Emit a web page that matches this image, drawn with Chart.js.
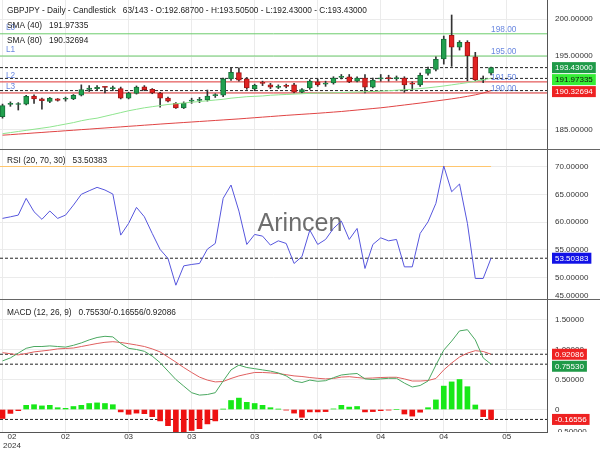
<!DOCTYPE html>
<html>
<head>
<meta charset="utf-8">
<script src="https://cdn.jsdelivr.net/npm/chart.js@4.4.1/dist/chart.umd.min.js"></script>
<style>
html, body { margin: 0; padding: 0; background: #fff; }
#wrap { position: relative; width: 600px; height: 450px; overflow: hidden; }
.panel { position: absolute; left: 0; width: 600px; }
.panel canvas { display: block; }
.sep { position: absolute; left: 0; width: 600px; height: 1px; background: #666; }
</style>
</head>
<body>
<div id="wrap">
  <div class="panel" style="top:0;height:149px"><canvas id="priceChart" width="600" height="149"></canvas></div>
  <div class="sep" style="top:149px"></div>
  <div class="panel" style="top:150px;height:149px"><canvas id="rsiChart" width="600" height="149"></canvas></div>
  <div class="sep" style="top:299px"></div>
  <div class="panel" style="top:300px;height:150px"><canvas id="macdChart" width="600" height="150"></canvas></div>
</div>
<script>
// x axis (candle index) ticks
const xTickIdx = [0, 8, 16, 24, 32, 40, 48, 56, 64];
const xTickLabels = ['02', '02', '03', '03', '03', '04', '04', '04', '05'];

// GBPJPY daily candles
const opens = [186.8, 188.45, 188.45, 188.5, 189.6, 189.2, 188.85, 189.2, 189.15, 189.2,
  189.7, 190.5, 190.6, 190.85, 190.6, 190.6, 189.3, 189.95, 190.85, 190.5,
  190.0, 189.3, 188.6, 188.0, 188.9, 189.0, 189.05, 189.65, 189.7, 191.9,
  192.75, 191.9, 190.55, 191.4, 191.1, 190.75, 191.0, 191.1, 190.1, 190.7,
  191.5, 191.2, 191.35, 192.1, 192.2, 191.6, 192.0, 190.8, 191.9, 192.05,
  191.95, 192.0, 191.35, 191.1, 192.66, 193.2, 194.6, 197.8, 196.2, 196.85,
  194.9, 191.72, 192.687];
const highs = [188.5, 188.8, 188.7, 189.7, 189.75, 189.3, 189.4, 189.25, 189.45, 189.8,
  191.1, 191.0, 191.0, 190.9, 190.95, 190.8, 190.1, 190.95, 191.0, 190.6,
  190.1, 189.45, 188.7, 188.8, 189.3, 189.4, 190.4, 189.9, 192.0, 193.4,
  193.4, 192.1, 191.2, 191.6, 191.3, 191.1, 191.2, 191.3, 190.6, 191.8,
  191.9, 191.6, 192.2, 192.5, 192.5, 192.2, 192.5, 192.0, 192.5, 192.4,
  192.3, 192.2, 191.5, 192.7, 193.5, 194.9, 197.7, 200.54, 197.07, 197.07,
  195.5, 192.3, 193.505];
const lows = [186.6, 188.2, 187.7, 188.4, 188.6, 187.8, 188.7, 188.9, 188.9, 189.1,
  189.6, 190.2, 190.3, 190.0, 190.3, 189.2, 189.2, 189.85, 190.3, 189.9,
  188.1, 188.8, 187.9, 187.9, 188.6, 188.7, 188.9, 189.4, 189.5, 191.7,
  191.6, 190.5, 190.3, 191.0, 190.6, 190.6, 190.7, 190.0, 190.0, 190.5,
  190.9, 190.9, 191.2, 191.9, 191.4, 191.5, 190.0, 190.7, 191.6, 191.6,
  191.7, 190.1, 190.4, 190.9, 192.4, 193.0, 193.9, 193.6, 195.8, 191.66,
  191.66, 191.4, 192.43];
const closes = [188.3, 188.6, 188.55, 189.55, 189.2, 188.95, 189.3, 189.0, 189.25, 189.7,
  190.45, 190.65, 190.75, 190.75, 190.65, 189.3, 190.0, 190.8, 190.45, 190.0,
  189.3, 188.9, 188.0, 188.6, 189.0, 189.1, 189.6, 189.75, 191.9, 192.8,
  191.75, 190.7, 191.05, 191.3, 190.8, 190.85, 190.9, 190.1, 190.45, 191.6,
  191.1, 191.35, 192.0, 192.25, 191.5, 192.0, 190.8, 191.75, 192.05, 191.95,
  192.0, 191.1, 191.2, 192.4, 193.2, 194.55, 197.3, 196.2, 196.85, 195.04,
  191.76, 191.8, 193.43];

const sma40 = [184.5, 184.65, 184.8, 184.95, 185.1, 185.25, 185.4, 185.6, 185.8, 186.0,
  186.25, 186.45, 186.6, 186.85, 187.1, 187.35, 187.6, 187.8, 188.0, 188.15,
  188.3, 188.45, 188.55, 188.65, 188.75, 188.85, 188.95, 189.05, 189.15, 189.3,
  189.4, 189.5, 189.55, 189.6, 189.7, 189.75, 189.8, 189.85, 189.9, 189.95,
  189.98, 190.0, 190.03, 190.07, 190.1, 190.13, 190.17, 190.2, 190.25, 190.3,
  190.38, 190.45, 190.5, 190.6, 190.7, 190.82, 190.95, 191.1, 191.25, 191.4,
  191.6, 191.8, 191.97335];
const sma80 = [184.3, 184.37, 184.45, 184.52, 184.6, 184.67, 184.75, 184.82, 184.9, 184.97,
  185.05, 185.12, 185.2, 185.27, 185.35, 185.42, 185.5, 185.57, 185.65, 185.72,
  185.8, 185.87, 185.94, 186.01, 186.08, 186.15, 186.22, 186.29, 186.36, 186.43,
  186.5, 186.58, 186.66, 186.74, 186.82, 186.9, 186.98, 187.05, 187.12, 187.19,
  187.26, 187.34, 187.42, 187.5, 187.6, 187.7, 187.8, 187.9, 188.0, 188.12,
  188.25, 188.38, 188.51, 188.64, 188.78, 188.92, 189.06, 189.21, 189.37, 189.55,
  189.75, 190.0, 190.32694];

const rsi = [60.67, 60.95, 61.26, 64.27, 61.86, 60.5, 62.0, 60.67, 61.26, 63.06,
  65.0, 65.64, 66.25, 65.77, 65.05, 57.66, 59.77, 62.65, 60.96, 57.96,
  55.08, 53.46, 48.65, 52.13, 52.38, 52.56, 55.14, 56.16, 64.27, 66.67,
  61.98, 55.98, 57.78, 57.48, 55.86, 56.63, 56.16, 52.56, 53.8, 58.56,
  55.98, 56.88, 58.86, 60.18, 56.88, 58.86, 51.66, 55.98, 57.17, 56.63,
  56.88, 51.95, 51.95, 57.96, 60.05, 63.37, 70.09, 65.46, 66.85, 59.77,
  49.86, 49.86, 53.50383];

const macd = [0.81, 0.86, 0.94, 1.02, 1.05, 1.05, 1.06, 1.05, 1.04, 1.07,
  1.11, 1.16, 1.20, 1.22, 1.21, 1.10, 1.02, 1.00, 0.97, 0.89,
  0.78, 0.64, 0.50, 0.39, 0.28, 0.24, 0.25, 0.28, 0.475, 0.66,
  0.74, 0.70, 0.68, 0.66, 0.64, 0.61, 0.56, 0.475, 0.45, 0.49,
  0.47, 0.48, 0.53, 0.575, 0.59, 0.60, 0.51, 0.50, 0.51, 0.52,
  0.52, 0.44, 0.375, 0.40, 0.475, 0.74, 0.99, 1.14, 1.31, 1.33,
  1.16, 0.86, 0.7553];
const signal = [0.947, 0.93, 0.91, 0.933, 0.96, 0.975, 0.99, 1.01, 1.017, 1.025,
  1.05, 1.075, 1.10, 1.12, 1.13, 1.117, 1.097, 1.075, 1.05, 1.01,
  0.96, 0.875, 0.79, 0.70, 0.617, 0.54, 0.49, 0.46, 0.467, 0.517,
  0.56, 0.59, 0.617, 0.617, 0.61, 0.60, 0.58, 0.56, 0.55, 0.533,
  0.52, 0.51, 0.517, 0.54, 0.547, 0.533, 0.52, 0.525, 0.533, 0.537,
  0.537, 0.51, 0.475, 0.475, 0.483, 0.517, 0.66, 0.775, 0.875, 0.94,
  0.98, 0.967, 0.92086];
const hist = [-0.15, -0.065, -0.02, 0.07, 0.08, 0.06, 0.07, 0.03, 0.02, 0.05,
  0.07, 0.10, 0.11, 0.10, 0.08, -0.04, -0.08, -0.06, -0.07, -0.12,
  -0.19, -0.27, -0.42, -0.41, -0.35, -0.32, -0.24, -0.19, 0.005, 0.15,
  0.19, 0.12, 0.10, 0.07, 0.03, 0.005, -0.01, -0.06, -0.13, -0.04,
  -0.04, -0.035, 0.01, 0.07, 0.04, 0.05, -0.04, -0.035, -0.02, -0.01,
  0, -0.075, -0.11, -0.045, 0.03, 0.16, 0.39, 0.46, 0.50, 0.38,
  0.075, -0.12, -0.16556];

// horizontal levels on the price panel
const levelNames = ['L0', 'L1', 'L2', 'L3'];
const levelValues = [198, 195, 191.5, 190];

const priceTicks = [185, 190, 195, 200];
const rsiTicks = [50, 55, 60, 65, 70];
const macdTicks = [0, 0.5, 1, 1.5];

const FONT = '"Liberation Sans", Arial, sans-serif';
const X_MIN = -0.32, X_MAX = 69.1;
const idx = closes.map((_, i) => i);

Chart.defaults.font.family = FONT;

function xScale(height, showBorder) {
    return {
        type: 'linear', min: X_MIN, max: X_MAX, offset: false,
        afterBuildTicks: s => { s.ticks = xTickIdx.map(v => ({ value: v })); },
        ticks: { display: false },
        grid: { color: '#ebebeb', drawTicks: false, offset: false },
        border: { display: showBorder, color: '#555' },
        afterFit: s => { s.height = height; s.paddingLeft = 0; s.paddingRight = 0; }
    };
}

function yScale(min, max, tickVals, fmt) {
    return {
        position: 'right', min: min, max: max,
        afterBuildTicks: s => { s.ticks = tickVals.map(v => ({ value: v })); },
        ticks: { callback: fmt, font: { family: FONT, size: 8 }, color: '#333', padding: 8 },
        grid: { color: '#ebebeb', drawTicks: false },
        border: { display: true, color: '#555' },
        afterFit: s => { s.width = 53; s.paddingTop = 0; s.paddingBottom = 0; }
    };
}

const fmt5 = v => (v === 0 ? '0' : Number(v).toFixed(5));

function lineDs(ys, color, order, extra) {
    return Object.assign({
        type: 'line',
        data: ys.map((y, i) => ({ x: i, y: y })),
        borderColor: color, borderWidth: 1, pointRadius: 0, tension: 0, order: order
    }, extra || {});
}

function hLine(value, color, order, dash, xEnd) {
    return {
        type: 'line',
        data: [{ x: X_MIN, y: value }, { x: xEnd === undefined ? X_MAX : xEnd, y: value }],
        borderColor: color, borderWidth: 1, borderDash: dash || [],
        pointRadius: 0, order: order
    };
}

const baseOptions = {
    responsive: false,
    maintainAspectRatio: false,
    animation: false,
    events: [],
    layout: { padding: 0, autoPadding: false },
    plugins: { legend: { display: false }, tooltip: { enabled: false } }
};

function drawTitle(ctx, name, value, x, y) {
    ctx.save();
    ctx.font = '8.3px ' + FONT;
    ctx.fillStyle = '#222';
    ctx.textAlign = 'left';
    ctx.textBaseline = 'middle';
    ctx.fillText(name, x, y);
    const w = ctx.measureText(name).width;
    ctx.fillText(value, x + w + 7, y);
    ctx.restore();
}

// value boxes on the right axis, pushed apart so they never overlap
function drawBoxes(chart, boxes) {
    const ctx = chart.ctx;
    const ys = chart.scales.y;
    ctx.save();
    ctx.font = '8px ' + FONT;
    ctx.textAlign = 'left';
    ctx.textBaseline = 'middle';
    let prev = -Infinity;
    boxes.map(b => Object.assign({ cy: ys.getPixelForValue(b.value) }, b))
        .sort((a, b) => a.cy - b.cy)
        .forEach(b => {
            const cy = Math.max(b.cy, prev + 12);
            prev = cy;
            const w = ctx.measureText(b.text).width;
            ctx.fillStyle = b.bg;
            ctx.fillRect(552, cy - 5.5, w + 6, 11);
            ctx.fillStyle = b.fg;
            ctx.fillText(b.text, 555, cy + 0.5);
        });
    ctx.restore();
}

function edgeLabel(chart, text, y) {
    const ctx = chart.ctx;
    ctx.save();
    ctx.beginPath();
    ctx.rect(548, 0, 52, chart.chartArea.bottom);
    ctx.clip();
    ctx.font = '8px ' + FONT;
    ctx.fillStyle = '#333';
    ctx.textAlign = 'left';
    ctx.textBaseline = 'middle';
    ctx.fillText(text, 555, y);
    ctx.restore();
}

// ---------- price panel ----------
const upCol = '#22a04e', upBorder = '#17703a';
const dnCol = '#e02222', dnBorder = '#a31616';
const isUp = idx.map(i => closes[i] >= opens[i]);

const pricePlugin = {
    id: 'priceDecor',
    afterDraw(chart) {
        const ctx = chart.ctx;
        const ys = chart.scales.y, xs = chart.scales.x;
        ctx.save();
        ctx.font = '8.3px ' + FONT;
        ctx.fillStyle = '#6a88e0';
        ctx.textBaseline = 'middle';
        levelValues.forEach((v, k) => {
            const py = ys.getPixelForValue(v);
            ctx.textAlign = 'left';
            ctx.fillText(levelNames[k], 6, py - 6.5);
            ctx.fillText(v.toFixed(2), xs.getPixelForValue(idx.length - 1), py - 4.5);
        });
        ctx.restore();
        const last = idx.length - 1;
        drawTitle(ctx, 'GBPJPY - Daily - Candlestick',
            '63/143 - O:' + opens[last].toFixed(5) + ' - H:' + highs[last].toFixed(5) +
            ' - L:' + lows[last].toFixed(5) + ' - C:' + closes[last].toFixed(5), 7, 10.3);
        drawTitle(ctx, 'SMA (40)', sma40[last].toFixed(5), 7, 25.7);
        drawTitle(ctx, 'SMA (80)', sma80[last].toFixed(5), 7, 40.7);
        drawBoxes(chart, [
            { value: closes[last], text: closes[last].toFixed(5), bg: '#1f9a48', fg: '#fff' },
            { value: sma40[last], text: sma40[last].toFixed(5), bg: '#36ee36', fg: '#111' },
            { value: sma80[last], text: sma80[last].toFixed(5), bg: '#ee2222', fg: '#fff' }
        ]);
    }
};

const lastI = idx.length - 1;
new Chart(document.getElementById('priceChart'), {
    type: 'bar',
    data: {
        datasets: [
            hLine(levelValues[0], '#6ccc6c', 6),
            hLine(levelValues[1], '#6ccc6c', 6),
            hLine(levelValues[2], '#dd3333', 6),
            hLine(levelValues[3], '#dd3333', 6),
            hLine(closes[lastI], '#222', 5, [3, 2]),
            hLine(sma40[lastI], '#222', 5, [3, 2]),
            hLine(sma80[lastI], '#222', 5, [3, 2]),
            {
                type: 'bar', order: 3, grouped: false,
                data: idx.map(i => ({ x: i, y: [lows[i], highs[i]] })),
                backgroundColor: '#333', barThickness: 1, borderWidth: 0
            },
            {
                type: 'bar', order: 2, grouped: false,
                data: idx.map(i => ({ x: i, y: [opens[i], closes[i]] })),
                backgroundColor: isUp.map(u => (u ? upCol : dnCol)),
                borderColor: isUp.map(u => (u ? upBorder : dnBorder)),
                borderWidth: 1, borderSkipped: false, barThickness: 5, minBarLength: 1
            },
            lineDs(sma40, '#8fe58f', 1),
            lineDs(sma80, '#e04444', 1)
        ]
    },
    options: Object.assign({}, baseOptions, {
        scales: {
            x: xScale(0, false),
            y: yScale(182.4324, 202.5676, priceTicks, fmt5)
        }
    }),
    plugins: [pricePlugin]
});

// ---------- RSI panel ----------
const rsiPlugin = {
    id: 'rsiDecor',
    beforeDatasetsDraw(chart) {
        const ctx = chart.ctx;
        ctx.save();
        ctx.font = '25px ' + FONT;
        ctx.fillStyle = 'rgba(85,85,85,0.85)';
        ctx.textAlign = 'center';
        ctx.textBaseline = 'middle';
        ctx.fillText('Arincen', 300, 74);
        ctx.restore();
    },
    afterDraw(chart) {
        drawTitle(chart.ctx, 'RSI (20, 70, 30)', rsi[lastI].toFixed(5), 7, 11);
        edgeLabel(chart, '45.00000', 146);
        drawBoxes(chart, [{ value: rsi[lastI], text: rsi[lastI].toFixed(5), bg: '#1212e6', fg: '#fff' }]);
    }
};

new Chart(document.getElementById('rsiChart'), {
    type: 'line',
    data: {
        datasets: [
            hLine(70, '#ffc66e', 3, [], lastI),
            hLine(rsi[lastI], '#222', 2, [3, 2]),
            lineDs(rsi, '#5656dd', 1)
        ]
    },
    options: Object.assign({}, baseOptions, {
        scales: {
            x: xScale(0, false),
            y: yScale(46.169, 72.968, rsiTicks, fmt5)
        }
    }),
    plugins: [rsiPlugin]
});

// ---------- MACD panel ----------
const macdPlugin = {
    id: 'macdDecor',
    afterDraw(chart) {
        const ctx = chart.ctx;
        const xs = chart.scales.x;
        drawTitle(ctx, 'MACD (12, 26, 9)',
            macd[lastI].toFixed(5) + '/' + hist[lastI].toFixed(5) + '/' + signal[lastI].toFixed(5), 7, 12.7);
        edgeLabel(chart, '-0.50000', chart.chartArea.bottom);
        drawBoxes(chart, [
            { value: signal[lastI], text: signal[lastI].toFixed(5), bg: '#ee2222', fg: '#fff' },
            { value: macd[lastI], text: macd[lastI].toFixed(5), bg: '#1f9a48', fg: '#fff' },
            { value: hist[lastI], text: hist[lastI].toFixed(5), bg: '#ee2222', fg: '#fff' }
        ]);
        ctx.save();
        ctx.font = '8px ' + FONT;
        ctx.fillStyle = '#333';
        ctx.textAlign = 'center';
        ctx.textBaseline = 'middle';
        xTickIdx.forEach((v, k) => {
            const px = Math.max(xs.getPixelForValue(v), 12);
            ctx.fillText(xTickLabels[k], px, 137);
            if (k === 0) ctx.fillText('2024', px, 146);
        });
        ctx.restore();
    }
};

new Chart(document.getElementById('macdChart'), {
    type: 'bar',
    data: {
        datasets: [
            hLine(signal[lastI], '#222', 5, [3, 2]),
            hLine(macd[lastI], '#222', 5, [3, 2]),
            hLine(hist[lastI], '#222', 5, [3, 2]),
            {
                type: 'bar', order: 3, grouped: false,
                data: idx.map(i => ({ x: i, y: hist[i] })),
                backgroundColor: hist.map(v => (v >= 0 ? '#18e818' : '#ee1111')),
                barThickness: 5, borderWidth: 0
            },
            lineDs(macd, '#4aa860', 1),
            lineDs(signal, '#e06060', 1)
        ]
    },
    options: Object.assign({}, baseOptions, {
        scales: {
            x: xScale(18, true),
            y: yScale(-0.375, 1.825, macdTicks, fmt5)
        }
    }),
    plugins: [macdPlugin]
});
</script>
</body>
</html>
